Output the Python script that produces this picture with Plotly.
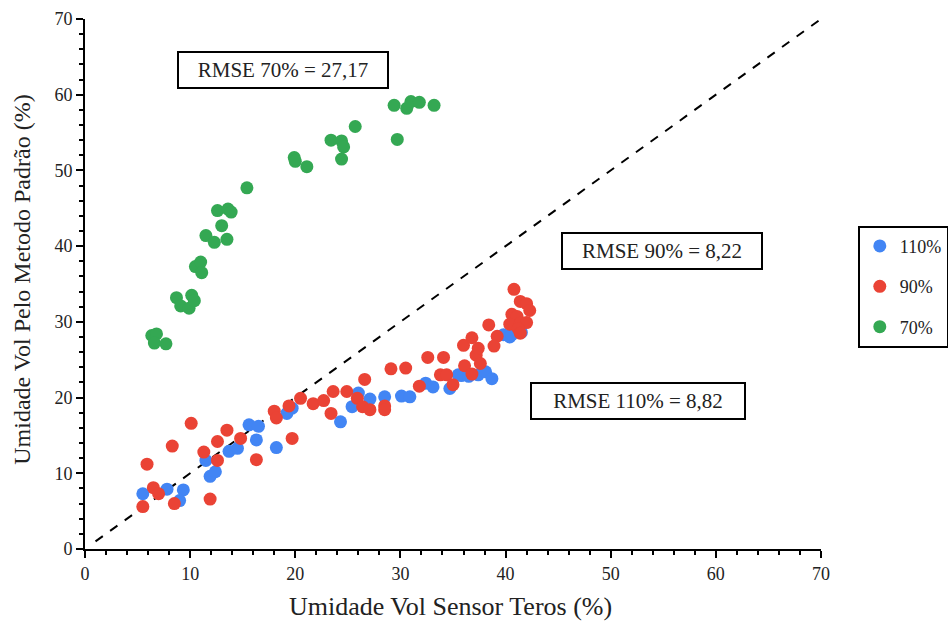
import plotly.graph_objects as go

# 110% series
x110 = [5.5, 7.8, 9.35, 9.0, 11.5, 11.9, 12.4, 13.7, 14.5, 15.6, 16.5, 16.3, 18.2, 19.2, 19.7,
        24.3, 25.4, 26.0, 27.1, 28.5, 30.1, 30.9, 32.4, 33.1, 34.7, 35.8, 35.5, 36.5, 37.4,
        38.1, 38.7, 39.8, 40.4, 40.6, 41.5]
y110 = [7.3, 7.9, 7.8, 6.4, 11.7, 9.6, 10.2, 12.9, 13.3, 16.4, 16.2, 14.4, 13.4, 17.9, 18.6,
        16.8, 18.8, 20.6, 19.8, 20.1, 20.2, 20.1, 21.9, 21.4, 21.2, 22.9, 23.0, 22.8, 23.0,
        23.4, 22.5, 28.3, 28.0, 28.3, 28.6]

# 90% series
x90 = [5.5, 5.9, 6.5, 7.0, 8.3, 8.5, 10.1, 11.3, 11.9, 12.6, 12.6, 13.5, 14.8, 16.3, 18.0,
       18.2, 19.4, 19.7, 20.5, 21.7, 22.7, 23.6, 23.4, 24.9, 25.9, 26.6, 26.4, 27.1, 28.5,
       28.5, 29.1, 30.5, 31.8, 32.6, 34.1, 33.8, 34.4, 35.0, 36.0, 36.8, 36.1, 36.8, 37.2,
       37.4, 37.6, 38.4, 39.2, 38.9, 40.8, 41.4, 42.0, 42.3, 40.6, 41.1, 40.4, 41.4, 42.0,
       41.2, 41.4]
y90 = [5.6, 11.2, 8.1, 7.3, 13.6, 6.0, 16.6, 12.8, 6.6, 11.7, 14.2, 15.7, 14.6, 11.8, 18.2,
       17.3, 18.9, 14.6, 19.9, 19.2, 19.6, 20.8, 17.9, 20.8, 19.9, 22.4, 18.8, 18.4, 18.9,
       18.4, 23.8, 23.9, 21.5, 25.3, 25.3, 23.0, 23.0, 21.7, 26.9, 27.9, 24.2, 23.1, 25.6,
       26.5, 24.5, 29.6, 28.1, 26.8, 34.3, 32.7, 32.4, 31.5, 31.0, 30.7, 29.7, 29.8, 29.9,
       29.1, 28.5]

# 70% series
x70 = [6.35, 6.8, 6.6, 7.7, 8.7, 9.1, 9.9, 10.15, 10.4, 10.5, 11.0, 11.1, 11.5, 12.3, 13.0,
       13.5, 12.6, 13.6, 13.9, 15.4, 19.9, 20.0, 21.1, 23.4, 24.4, 24.6, 24.4, 25.7, 29.4,
       29.7, 30.6, 31.0, 31.8, 33.2]
y70 = [28.2, 28.4, 27.2, 27.1, 33.2, 32.1, 31.8, 33.5, 32.8, 37.3, 37.9, 36.5, 41.4, 40.5, 42.7,
       40.9, 44.7, 44.9, 44.5, 47.7, 51.7, 51.2, 50.5, 54.0, 53.9, 53.1, 51.5, 55.8, 58.6,
       54.1, 58.2, 59.1, 59.0, 58.6]

line_xy = [1, 70]

serif = "Liberation Serif, Times New Roman, serif"

fig = go.Figure()
fig.add_trace(go.Scatter(x=line_xy, y=line_xy, mode="lines",
                         line=dict(color="black", width=2, dash="dash"),
                         showlegend=False, hoverinfo="skip"))
fig.add_trace(go.Scatter(x=x110, y=y110, mode="markers", name="110%", legendgroup="a",
                         marker=dict(color="#4285F4", size=13)))
fig.add_trace(go.Scatter(x=x90, y=y90, mode="markers", name="90%", legendgroup="b",
                         marker=dict(color="#EA4335", size=13)))
fig.add_trace(go.Scatter(x=x70, y=y70, mode="markers", name="70%", legendgroup="c",
                         marker=dict(color="#34A853", size=13)))

annots = [("RMSE 70% = 27,17", 18.84, 63.27, 200),
          ("RMSE 90% = 8,22", 54.9, 39.36, 190),
          ("RMSE 110% = 8,82", 52.6, 19.55, 204)]
for txt, ax_, ay_, w in annots:
    fig.add_annotation(x=ax_, y=ay_, xref="x", yref="y", text=txt, showarrow=False,
                       font=dict(family=serif, size=21, color="#222"),
                       bordercolor="black", borderwidth=2, borderpad=4,
                       bgcolor="white", width=w, height=26)

# axis titles as annotations for exact placement
fig.add_annotation(x=0.497, y=-0.109, xref="paper", yref="paper",
                   xanchor="center", yanchor="middle",
                   text="Umidade Vol Sensor Teros (%)", showarrow=False,
                   font=dict(family=serif, size=26, color="#222"))
fig.add_annotation(x=-0.0856, y=0.508, xref="paper", yref="paper", textangle=-90,
                   xanchor="center", yanchor="middle",
                   text="Umidade Vol Pelo Metodo Padrão (%)", showarrow=False,
                   font=dict(family=serif, size=24, color="#222"))

axis_common = dict(range=[0, 70], dtick=10, showgrid=False, zeroline=False,
                   showline=True, linecolor="black", linewidth=2,
                   ticks="outside", ticklen=7, tickwidth=2, tickcolor="black",
                   tickfont=dict(family=serif, size=18, color="#222"),
                   minor=dict(dtick=2, ticks="outside", ticklen=4, tickwidth=1.5,
                              tickcolor="black"))

fig.update_layout(
    width=948, height=621,
    margin=dict(l=85, r=127, t=19, b=72, autoexpand=False),
    plot_bgcolor="white", paper_bgcolor="white",
    xaxis=dict(**axis_common),
    yaxis=dict(**axis_common),
    legend=dict(x=1.05, y=0.61, xanchor="left", yanchor="top",
                bordercolor="black", borderwidth=2, bgcolor="white",
                font=dict(family=serif, size=18, color="#222"),
                tracegroupgap=14, itemwidth=30),
)

fig.write_html("out.html")
